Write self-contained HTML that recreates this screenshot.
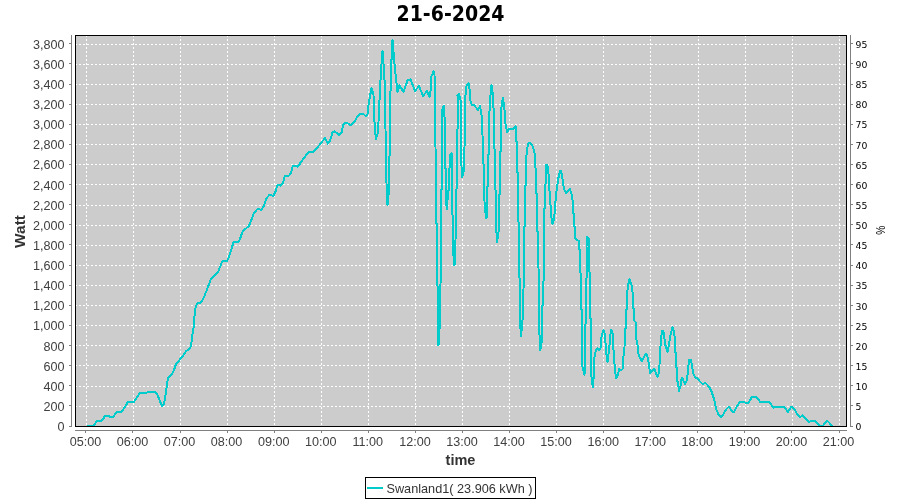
<!DOCTYPE html>
<html lang="en"><head><meta charset="utf-8"><title>21-6-2024</title>
<style>html,body{margin:0;padding:0;background:#fff;width:900px;height:500px;overflow:hidden}svg{display:block;will-change:transform}text{font-family:"Liberation Sans","DejaVu Sans",sans-serif}.dv text{font-family:"DejaVu Sans","Liberation Sans",sans-serif}</style>
</head><body>
<svg width="900" height="500" viewBox="0 0 900 500">
<rect x="0" y="0" width="900" height="500" fill="#ffffff"/>
<text x="450.5" y="21" text-anchor="middle" style="font-family:'DejaVu Sans','Liberation Sans',sans-serif" font-weight="bold" font-size="20.5" textLength="108" lengthAdjust="spacingAndGlyphs" fill="#000">21-6-2024</text>
<rect x="75" y="35" width="772" height="392" fill="#CCCCCC"/>
<g stroke="#ffffff" stroke-width="1" stroke-dasharray="2 2" shape-rendering="crispEdges" fill="none">
<line x1="86.5" y1="35" x2="86.5" y2="426"/>
<line x1="133.5" y1="35" x2="133.5" y2="426"/>
<line x1="180.5" y1="35" x2="180.5" y2="426"/>
<line x1="227.5" y1="35" x2="227.5" y2="426"/>
<line x1="274.5" y1="35" x2="274.5" y2="426"/>
<line x1="321.5" y1="35" x2="321.5" y2="426"/>
<line x1="368.5" y1="35" x2="368.5" y2="426"/>
<line x1="415.5" y1="35" x2="415.5" y2="426"/>
<line x1="462.5" y1="35" x2="462.5" y2="426"/>
<line x1="509.5" y1="35" x2="509.5" y2="426"/>
<line x1="556.5" y1="35" x2="556.5" y2="426"/>
<line x1="603.5" y1="35" x2="603.5" y2="426"/>
<line x1="650.5" y1="35" x2="650.5" y2="426"/>
<line x1="698.5" y1="35" x2="698.5" y2="426"/>
<line x1="745.5" y1="35" x2="745.5" y2="426"/>
<line x1="792.5" y1="35" x2="792.5" y2="426"/>
<line x1="839.5" y1="35" x2="839.5" y2="426"/>
<line x1="75" y1="406.5" x2="846" y2="406.5"/>
<line x1="75" y1="386.5" x2="846" y2="386.5"/>
<line x1="75" y1="365.5" x2="846" y2="365.5"/>
<line x1="75" y1="345.5" x2="846" y2="345.5"/>
<line x1="75" y1="325.5" x2="846" y2="325.5"/>
<line x1="75" y1="305.5" x2="846" y2="305.5"/>
<line x1="75" y1="285.5" x2="846" y2="285.5"/>
<line x1="75" y1="265.5" x2="846" y2="265.5"/>
<line x1="75" y1="245.5" x2="846" y2="245.5"/>
<line x1="75" y1="225.5" x2="846" y2="225.5"/>
<line x1="75" y1="205.5" x2="846" y2="205.5"/>
<line x1="75" y1="184.5" x2="846" y2="184.5"/>
<line x1="75" y1="164.5" x2="846" y2="164.5"/>
<line x1="75" y1="144.5" x2="846" y2="144.5"/>
<line x1="75" y1="124.5" x2="846" y2="124.5"/>
<line x1="75" y1="104.5" x2="846" y2="104.5"/>
<line x1="75" y1="84.5" x2="846" y2="84.5"/>
<line x1="75" y1="64.5" x2="846" y2="64.5"/>
<line x1="75" y1="44.5" x2="846" y2="44.5"/>
</g>
<polyline fill="none" stroke="#00CCCC" stroke-width="2" stroke-linejoin="round" stroke-linecap="round" shape-rendering="crispEdges" points="88,425.5 94,425.5 97,420.5 102,420.5 105,416 108,416 111,417 113,417 117,411.5 122,411.5 128,402 134,402 137,397 140,393 155,392 157,394 162,406 164,404 166,392 168,378 172,374 174,370 176,364 183,356 186,351 189,349.5 191,346 192,338 193,330 194,326 194.4,317 195.6,307 197.6,303 201,302.6 204,297 208,287 211,279 215,274.6 217.6,273 222.4,261 227,261 229,257 233.6,242 238.4,242 240,239 242.4,232 246,228.4 249,226 254,213 258,208.4 261,210 264,206 266,199 269.6,194.6 273,196 275,193 277.6,185 281,185.6 283,183 285,175.6 289,175.6 291,173 293,165.6 298,166.6 301,162 309,151.6 313,152.6 317,148 325,138 328,143.6 330,141 332.5,132.5 334.5,131.5 339.5,135 341.5,132.5 343.5,124 346,122.5 350.5,125 354,122.5 356.5,118 360,113.5 363.5,114 366,116.5 367.5,114 368.5,105 371.5,88 373.5,95 373.8,110 375,130 376,139 377.5,134 378.5,122 379,110 380.5,80 381,70 382.5,51 384,70 384.5,80 384.5,110 385.5,129 386,172 387.5,205 389,190 389.4,158 390,150 390,110 390.8,80 391,70 392.5,39.6 395,70 396,78 397.5,92 399.5,85.5 403.5,92 407.5,80.5 410.5,79.5 415,91 419,86 423,96 427,91 429.5,97 431,88 431.5,76 433.5,71.5 434.5,75 435,100 435.5,147 436,180 436,223 437,224 437,270 438,300 438.5,345.5 439.5,330 440,300 441,268 441,190 442,189 442,110 444,105.5 445,128 445,168.5 446,169 446,201.5 447,209.5 448,191 449,190 449.5,168 449.5,156 451.5,153 451.5,175.5 452.2,176.5 452,214.5 453,215.5 453,251 454.5,265.5 455.5,240 456,220 456,189.5 457,188.5 457,134 458,124 458,100 457.5,95.5 459,93.5 460.5,100 460.5,124 461,140 461,155 462,177.5 464,170 464.5,147 465,118 465.5,95 466.5,86 468.5,83.5 469.5,89 470,100 472,105 474,105 478,110 480,106 481.5,115 482.5,135 483,163.5 484,164.5 484,192 485,210 486.5,218.5 487,208 487,187 488,186 488,155 489,154 489,123 490,100 491.5,85.5 493,95 493,100 494,115 494,148.5 495,149.5 495,189.5 496,190.5 496,223 497,242 499,229 499,195 500,194 500,152 501,151 501,110 503,97.5 504.5,110 505.5,124 507,132 509,129 513,129.5 515.5,126 516,141 517,142.5 517,172.5 518.2,173.5 518,221.5 519,222.5 519.9,319.4 521,336.2 523,315 523.5,290 524,250 524,227 525,226 525,186 526,185 526,161.5 527,149 528.5,143 530,142.5 532,145 534,150 535,156 535,167.5 536,168.5 536,193 537,194 537,231.5 538.2,232.5 539,323 540.2,350.2 542.3,339 542.3,306 543.3,304.7 543.8,250 543.8,209.5 544.8,208.5 545.7,177 546.2,164.5 547,164.5 548,168 549,179 549.5,191 550.5,205 551,215 552.5,224 554,220 555,208 556,195 558,180 560,170.5 560.5,170.5 562,175 564,189 566,193 568,191 570,189 571.5,194 573,203 573,213 574,214.5 574,226 575,227 575,238 577,240 579,241 579,249 580,249.5 580,272.5 581,273.5 581,309.5 582.2,310.5 582.5,367 584.5,374.5 585,358 585,324.5 586,323.5 586,278.5 587,277.5 586.5,246 587,236.5 588.5,238 589,244 589,271.5 590,272.5 590,318 591,318.5 591,373 592.8,387 594,374 594.5,357 596,350 597.5,348 599,350.5 600.5,348 601,340 602,334.5 603.5,330.5 604.5,333 605,338 606,348 606.5,355 607.5,362 608.5,354 609.5,345 610,337 611.2,329.5 612.5,333 613,338 613.5,350 614.5,364 615.5,374 616,378 618,375 619,369 621,370.5 622.5,369 623,363 624,350 624.5,347 625,329 626,328 626,310 627,309 627,295 628,285.5 629.5,279.5 631,283 632,287 633,297 633,308 634,309 634.5,321 635.5,322 636,332 636.5,340 637.5,345 638.5,354 640,358 642,361 644,357 646,353.5 647.5,357 649,364 650,373 651.5,372 654,368.5 656,373 657.5,377 659,373 659.5,365 660,353 661,340 662,330.5 662.5,330.5 664,333 665,344 667.5,352 669,344 670.5,335 672.5,327.5 674,331.5 675,340 675.5,352.5 676.2,354 676.2,367 677,368 677,381 678,382.5 679,391 680.5,386 681,380 682,377.5 683.5,381 685,384 686.5,381.5 687.5,375 688.5,365 689.2,360 691,360 692,365 693,373 695,377 698,379 700,381.5 702.5,384 705.5,383 708,385.5 711,390 714,399 716.5,410 718.5,414.5 721,417 723.5,414 726,409.5 729,406.5 732,411.5 734,412 736.5,407 740,401.5 744,401.5 745.5,403 748.5,402.5 752,397 756.5,397 760.5,402.5 764,402 769,402 773.5,407.5 776,406.5 783,406.5 785.5,408.5 788,412 791,407 792.5,407 795,410 797,414 800,417 802.5,415.5 804.5,417 807,420.5 809,422 811,421 815,421 817,423 819.5,425.5 823,425.5 825.5,422.5 827,420.5 829,422.5 831.5,425.5"/>
<rect x="75.5" y="35.5" width="771" height="391" fill="none" stroke="#000" stroke-width="1" shape-rendering="crispEdges"/>
<g stroke="#808080" stroke-width="1" shape-rendering="crispEdges" fill="none">
<line x1="71.5" y1="35" x2="71.5" y2="427"/>
<line x1="850.5" y1="35" x2="850.5" y2="427"/>
<line x1="75" y1="430.5" x2="847" y2="430.5"/>
<line x1="69" y1="426.5" x2="72" y2="426.5"/>
<line x1="69" y1="405.5" x2="72" y2="405.5"/>
<line x1="69" y1="385.5" x2="72" y2="385.5"/>
<line x1="69" y1="365.5" x2="72" y2="365.5"/>
<line x1="69" y1="345.5" x2="72" y2="345.5"/>
<line x1="69" y1="325.5" x2="72" y2="325.5"/>
<line x1="69" y1="305.5" x2="72" y2="305.5"/>
<line x1="69" y1="285.5" x2="72" y2="285.5"/>
<line x1="69" y1="265.5" x2="72" y2="265.5"/>
<line x1="69" y1="244.5" x2="72" y2="244.5"/>
<line x1="69" y1="224.5" x2="72" y2="224.5"/>
<line x1="69" y1="204.5" x2="72" y2="204.5"/>
<line x1="69" y1="184.5" x2="72" y2="184.5"/>
<line x1="69" y1="164.5" x2="72" y2="164.5"/>
<line x1="69" y1="144.5" x2="72" y2="144.5"/>
<line x1="69" y1="124.5" x2="72" y2="124.5"/>
<line x1="69" y1="104.5" x2="72" y2="104.5"/>
<line x1="69" y1="84.5" x2="72" y2="84.5"/>
<line x1="69" y1="63.5" x2="72" y2="63.5"/>
<line x1="69" y1="43.5" x2="72" y2="43.5"/>
<line x1="850" y1="426.5" x2="853" y2="426.5"/>
<line x1="850" y1="405.5" x2="853" y2="405.5"/>
<line x1="850" y1="385.5" x2="853" y2="385.5"/>
<line x1="850" y1="365.5" x2="853" y2="365.5"/>
<line x1="850" y1="345.5" x2="853" y2="345.5"/>
<line x1="850" y1="325.5" x2="853" y2="325.5"/>
<line x1="850" y1="305.5" x2="853" y2="305.5"/>
<line x1="850" y1="285.5" x2="853" y2="285.5"/>
<line x1="850" y1="265.5" x2="853" y2="265.5"/>
<line x1="850" y1="244.5" x2="853" y2="244.5"/>
<line x1="850" y1="224.5" x2="853" y2="224.5"/>
<line x1="850" y1="204.5" x2="853" y2="204.5"/>
<line x1="850" y1="184.5" x2="853" y2="184.5"/>
<line x1="850" y1="164.5" x2="853" y2="164.5"/>
<line x1="850" y1="144.5" x2="853" y2="144.5"/>
<line x1="850" y1="124.5" x2="853" y2="124.5"/>
<line x1="850" y1="104.5" x2="853" y2="104.5"/>
<line x1="850" y1="84.5" x2="853" y2="84.5"/>
<line x1="850" y1="63.5" x2="853" y2="63.5"/>
<line x1="850" y1="43.5" x2="853" y2="43.5"/>
<line x1="85.5" y1="430" x2="85.5" y2="433"/>
<line x1="132.5" y1="430" x2="132.5" y2="433"/>
<line x1="180.5" y1="430" x2="180.5" y2="433"/>
<line x1="227.5" y1="430" x2="227.5" y2="433"/>
<line x1="274.5" y1="430" x2="274.5" y2="433"/>
<line x1="321.5" y1="430" x2="321.5" y2="433"/>
<line x1="368.5" y1="430" x2="368.5" y2="433"/>
<line x1="415.5" y1="430" x2="415.5" y2="433"/>
<line x1="462.5" y1="430" x2="462.5" y2="433"/>
<line x1="509.5" y1="430" x2="509.5" y2="433"/>
<line x1="556.5" y1="430" x2="556.5" y2="433"/>
<line x1="603.5" y1="430" x2="603.5" y2="433"/>
<line x1="650.5" y1="430" x2="650.5" y2="433"/>
<line x1="697.5" y1="430" x2="697.5" y2="433"/>
<line x1="744.5" y1="430" x2="744.5" y2="433"/>
<line x1="791.5" y1="430" x2="791.5" y2="433"/>
<line x1="839.5" y1="430" x2="839.5" y2="433"/>
</g>
<g font-size="12.6" fill="#404040" text-anchor="end">
<text x="64.5" y="431.0">0</text>
<text x="64.5" y="410.9">200</text>
<text x="64.5" y="390.7">400</text>
<text x="64.5" y="370.6">600</text>
<text x="64.5" y="350.5">800</text>
<text x="64.5" y="330.4">1,000</text>
<text x="64.5" y="310.3">1,200</text>
<text x="64.5" y="290.1">1,400</text>
<text x="64.5" y="270.0">1,600</text>
<text x="64.5" y="249.9">1,800</text>
<text x="64.5" y="229.8">2,000</text>
<text x="64.5" y="209.7">2,200</text>
<text x="64.5" y="189.5">2,400</text>
<text x="64.5" y="169.4">2,600</text>
<text x="64.5" y="149.3">2,800</text>
<text x="64.5" y="129.2">3,000</text>
<text x="64.5" y="109.1">3,200</text>
<text x="64.5" y="89.0">3,400</text>
<text x="64.5" y="68.8">3,600</text>
<text x="64.5" y="48.7">3,800</text>
</g>
<g class="dv" font-size="9.3" fill="#000" text-anchor="start">
<text x="855.5" y="430.2">0</text>
<text x="855.5" y="410.1">5</text>
<text x="855.5" y="390.0">10</text>
<text x="855.5" y="369.9">15</text>
<text x="855.5" y="349.8">20</text>
<text x="855.5" y="329.6">25</text>
<text x="855.5" y="309.5">30</text>
<text x="855.5" y="289.4">35</text>
<text x="855.5" y="269.3">40</text>
<text x="855.5" y="249.2">45</text>
<text x="855.5" y="229.0">50</text>
<text x="855.5" y="208.9">55</text>
<text x="855.5" y="188.8">60</text>
<text x="855.5" y="168.7">65</text>
<text x="855.5" y="148.6">70</text>
<text x="855.5" y="128.4">75</text>
<text x="855.5" y="108.3">80</text>
<text x="855.5" y="88.2">85</text>
<text x="855.5" y="68.1">90</text>
<text x="855.5" y="48.0">95</text>
</g>
<g font-size="12.6" fill="#404040" text-anchor="middle">
<text x="85.4" y="445.7">05:00</text>
<text x="132.5" y="445.7">06:00</text>
<text x="179.6" y="445.7">07:00</text>
<text x="226.6" y="445.7">08:00</text>
<text x="273.7" y="445.7">09:00</text>
<text x="320.8" y="445.7">10:00</text>
<text x="367.8" y="445.7">11:00</text>
<text x="414.9" y="445.7">12:00</text>
<text x="462.0" y="445.7">13:00</text>
<text x="509.1" y="445.7">14:00</text>
<text x="556.1" y="445.7">15:00</text>
<text x="603.2" y="445.7">16:00</text>
<text x="650.3" y="445.7">17:00</text>
<text x="697.3" y="445.7">18:00</text>
<text x="744.4" y="445.7">19:00</text>
<text x="791.5" y="445.7">20:00</text>
<text x="838.5" y="445.7">21:00</text>
</g>
<text x="460.5" y="464.5" text-anchor="middle" font-weight="bold" font-size="14.5" fill="#333">time</text>
<text transform="translate(24.8,231.5) rotate(-90)" text-anchor="middle" font-weight="bold" font-size="15.4" fill="#333">Watt</text>
<text transform="translate(876,230.3) rotate(90) scale(0.85,1)" text-anchor="middle" font-size="12" fill="#000">%</text>
<rect x="365.5" y="477.5" width="170" height="21" fill="#fff" stroke="#000" stroke-width="1" shape-rendering="crispEdges"/>
<line x1="367" y1="488" x2="383" y2="488" stroke="#00CCCC" stroke-width="2" shape-rendering="crispEdges"/>
<text x="386.5" y="493" font-size="12.7" fill="#333" xml:space="preserve">Swanland1( 23.906 kWh )</text>
</svg></body></html>
